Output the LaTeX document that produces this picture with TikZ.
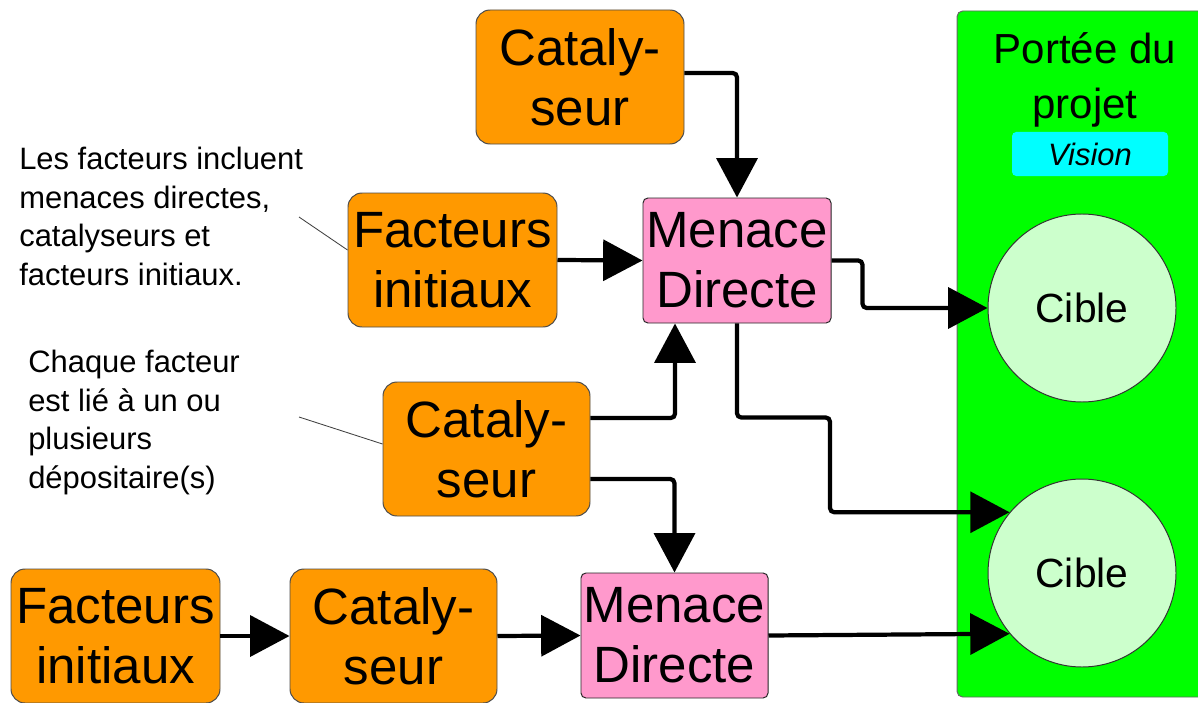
\documentclass[tikz,border=0pt]{standalone}
\usepackage{fontspec}
\setmainfont{Liberation Sans}
\usetikzlibrary{arrows.meta,calc}
\definecolor{boxorange}{RGB}{255,153,0}
\definecolor{boxpink}{RGB}{255,153,204}
\definecolor{scopegreen}{RGB}{0,255,0}
\definecolor{ciblegreen}{RGB}{204,255,204}
\definecolor{visioncyan}{RGB}{0,255,255}
\begin{document}
\begin{tikzpicture}[x=0.025cm,y=-0.025cm,
    facteur/.style={draw=black!70,line width=0.7pt,fill=boxorange,rounded corners=10pt,
        minimum width=207*0.025cm,minimum height=134*0.025cm,inner sep=0pt,align=center,
        font=\fontsize{36.3}{42.7}\selectfont},
    menace/.style={facteur,fill=boxpink,rounded corners=3.5pt,draw=black!85,
        minimum width=188*0.025cm,minimum height=125*0.025cm},
    cible/.style={circle,draw=black!80,line width=0.7pt,fill=ciblegreen,minimum size=188*0.025cm,
        inner sep=0pt,font=\fontsize{29}{34}\selectfont},
    note/.style={anchor=north west,inner sep=0pt,align=left,font=\fontsize{22}{27.4}\selectfont},
    flow/.style={line width=3pt,rounded corners=3pt,-{Triangle[length=28pt,width=29pt]}},
    leader/.style={black!75,line width=0.6pt}]
  \useasboundingbox (0,0) rectangle (1198,703);
  % portee du projet
  \draw[black!60,line width=0.7pt,fill=scopegreen,rounded corners=4pt] (957,11) rectangle (1215,697);
  \node[anchor=north,inner sep=0pt,align=center,font=\fontsize{29.9}{39}\selectfont] (portee) at (1085,32) {Portée du\\projet};
  \node[fill=visioncyan,rounded corners=3pt,minimum width=156*0.025cm,minimum height=44*0.025cm,
      inner sep=0pt,font=\fontsize{22}{26}\selectfont\itshape] (vision) at (1090,154) {Vision};
  \node[cible] (cible1) at (1082,308) {Cible};
  \node[cible] (cible2) at (1082,573) {Cible};
  % facteurs
  \node[facteur,minimum width=208*0.025cm] (cattop) at (580,77) {Cataly-\\seur};
  \node[facteur,minimum width=209*0.025cm] (facmid) at (452.5,260) {Facteurs\\initiaux};
  \node[menace] (mentop) at (737,260.5) {Menace\\Directe};
  \node[facteur] (catmid) at (486.5,449) {Cataly-\\seur};
  \node[facteur,minimum width=209*0.025cm] (facbot) at (115.5,636) {Facteurs\\initiaux};
  \node[facteur] (catbot) at (393.5,636) {Cataly-\\seur};
  \node[menace,minimum width=187*0.025cm] (menbot) at (674.5,635.5) {Menace\\Directe};
  % notes
  \node[note] (note1) at (19,147) {Les facteurs incluent\\menaces directes,\\catalyseurs et\\facteurs initiaux.};
  \node[note] (note2) at (28,350) {Chaque facteur\\est lié à un ou\\plusieurs\\dépositaire(s)};
  \coordinate (n1) at (299,217);
  \coordinate (n2) at (299,417);
  \draw[leader] (n1) -- ($(facmid.west)+(0,-10)$);
  \draw[leader] (n2) -- ($(catmid.west)+(0,-5)$);
  % fleches
  \draw[flow] ($(cattop.east)+(0,-4)$) -| (mentop.north);
  \draw[flow] (facmid.east) -- (mentop.west);
  \draw[flow] (mentop.east) -- ++(31,0) |- (cible1.west);
  \draw[flow] ($(catmid.east)+(0,-31)$) -| ($(mentop.south)+(-62,0)$);
  \draw[flow] (mentop.south) -- ++(0,94) -- ++(93,0) |- (cible2.140);
  \draw[flow] ($(catmid.east)+(0,30)$) -| (menbot.north);
  \draw[flow] (facbot.east) -- (catbot.west);
  \draw[flow] (catbot.east) -- (menbot.west);
  \draw[flow] (menbot.east) -- (cible2.220);
\end{tikzpicture}
\end{document}
